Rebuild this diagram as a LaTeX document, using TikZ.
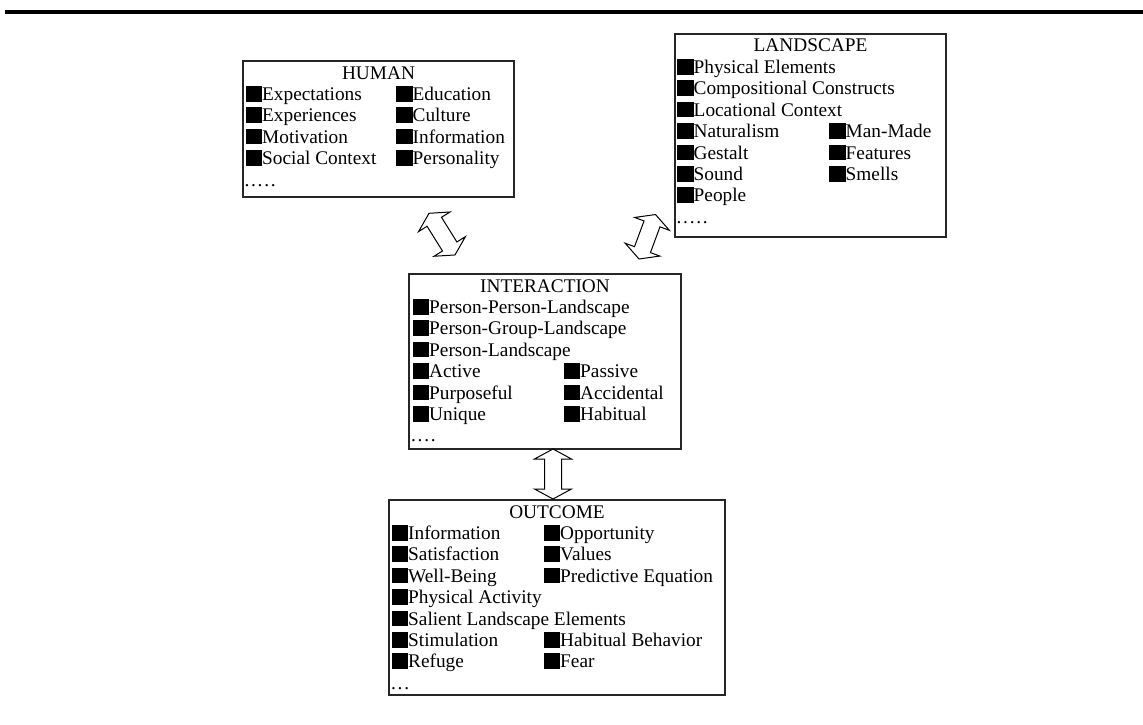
\documentclass[tikz,border=0pt]{standalone}
\usepackage{fontspec}
\setmainfont{Liberation Serif}
\usetikzlibrary{calc}

% black bullet square in front of each entry
\newcommand\blk{\rule[-1.2pt]{16.5pt}{15.7pt}}
\newcommand\spdot{.\kern1.7pt}

\tikzset{
  box/.style={draw=black!85, line width=1.3pt, fill=white, inner sep=0pt, outer sep=0pt, anchor=north west},
  title/.style={anchor=base, inner sep=0pt, font=\fontsize{19.3}{21.4}\selectfont},
  entry/.style={anchor=base west, inner sep=0pt, font=\fontsize{19.3}{21.4}\selectfont},
  blockarrow/.style={draw=black, fill=white, line width=1pt, line join=miter},
  pics/dblarrow/.style={code={
    \draw[blockarrow] (0,0) -- (10,18.5) -- (10,8.5) -- (#1-10,8.5) -- (#1-10,18.5)
      -- (#1,0) -- (#1-10,-18.5) -- (#1-10,-8.5) -- (10,-8.5) -- (10,-18.5) -- cycle;
  }}
}

% entry: box, row, column offset, text
\newcommand\entry[4]{\node[entry] at ($(#1.north west)+(#3,18+21.4*#2)$) {#4};}
% double block arrow between two named coordinates
\newcommand\dblarrowbetween[2]{%
  \path let \p1=($(#2)-(#1)$) in
    \pgfextra{\pgfmathsetmacro\arang{atan2(\y1,\x1)}\pgfmathsetmacro\arlen{veclen(\x1,\y1)}%
      \global\let\arang\arang\global\let\arlen\arlen};
  \pic[rotate=\arang] at (#1) {dblarrow=\arlen};
}

\begin{document}
\begin{tikzpicture}[x=1pt, y=-1pt]
\useasboundingbox (0,0) rectangle (1143,725);

% rule across the top
\fill[black] (5,10) rectangle (1143,14);

% boxes
\node[box, minimum width=271pt, minimum height=136pt] (human) at (243,61) {};
\node[box, minimum width=271pt, minimum height=203pt] (land) at (675,34) {};
\node[box, minimum width=272pt, minimum height=175pt] (inter) at (409,274) {};
\node[box, minimum width=336pt, minimum height=195pt] (out) at (389,500) {};

% titles
\node[title] (humant) at ($(human.north)+(0,18)$) {HUMAN};
\node[title] (landt) at ($(land.north)+(0,18)$) {LANDSCAPE};
\node[title] (intert) at ($(inter.north)+(0,18)$) {INTERACTION};
\node[title] (outt) at ($(out.north)+(0,18)$) {OUTCOME};

% HUMAN
\entry{human}{1}{2.5}{\blk Expectations}
\entry{human}{2}{2.5}{\blk Experiences}
\entry{human}{3}{2.5}{\blk Motivation}
\entry{human}{4}{2.5}{\blk Social Context}
\entry{human}{1}{153}{\blk Education}
\entry{human}{2}{153}{\blk Culture}
\entry{human}{3}{153}{\blk Information}
\entry{human}{4}{153}{\blk Personality}
\entry{human}{5}{1.5}{\spdot\spdot\spdot\spdot.}

% LANDSCAPE
\entry{land}{1}{2}{\blk Physical Elements}
\entry{land}{2}{2}{\blk Compositional Constructs}
\entry{land}{3}{2}{\blk Locational Context}
\entry{land}{4}{2}{\blk Naturalism}
\entry{land}{5}{2}{\blk Gestalt}
\entry{land}{6}{2}{\blk Sound}
\entry{land}{7}{2}{\blk People}
\entry{land}{4}{154}{\blk Man-Made}
\entry{land}{5}{154}{\blk Features}
\entry{land}{6}{154}{\blk Smells}
\entry{land}{8}{1.5}{\spdot\spdot\spdot\spdot.}

% INTERACTION
\entry{inter}{1}{3.5}{\blk Person-Person-Landscape}
\entry{inter}{2}{3.5}{\blk Person-Group-Landscape}
\entry{inter}{3}{3.5}{\blk Person-Landscape}
\entry{inter}{4}{3.5}{\blk Active}
\entry{inter}{5}{3.5}{\blk Purposeful}
\entry{inter}{6}{3.5}{\blk Unique}
\entry{inter}{4}{154.5}{\blk Passive}
\entry{inter}{5}{154.5}{\blk Accidental}
\entry{inter}{6}{154.5}{\blk Habitual}
\entry{inter}{7}{2}{\spdot\spdot\spdot.}

% OUTCOME
\entry{out}{1}{2.5}{\blk Information}
\entry{out}{2}{2.5}{\blk Satisfaction}
\entry{out}{3}{2.5}{\blk Well-Being}
\entry{out}{4}{2.5}{\blk Physical Activity}
\entry{out}{5}{2.5}{\blk Salient Landscape Elements}
\entry{out}{6}{2.5}{\blk Stimulation}
\entry{out}{7}{2.5}{\blk Refuge}
\entry{out}{1}{154.5}{\blk Opportunity}
\entry{out}{2}{154.5}{\blk Values}
\entry{out}{3}{154.5}{\blk Predictive Equation}
\entry{out}{6}{154.5}{\blk Habitual Behavior}
\entry{out}{7}{154.5}{\blk Fear}
\entry{out}{8}{2}{\spdot\spdot.}

% two-headed block arrows
\coordinate (a1s) at (429,213.3);
\coordinate (a1e) at (455,255);
\coordinate (a2s) at (639,259);
\coordinate (a2e) at (655.5,214.5);
\coordinate (a3s) at (553,449);
\coordinate (a3e) at (553,499);
\dblarrowbetween{a1s}{a1e}
\dblarrowbetween{a2s}{a2e}
\dblarrowbetween{a3s}{a3e}
\end{tikzpicture}
\end{document}
